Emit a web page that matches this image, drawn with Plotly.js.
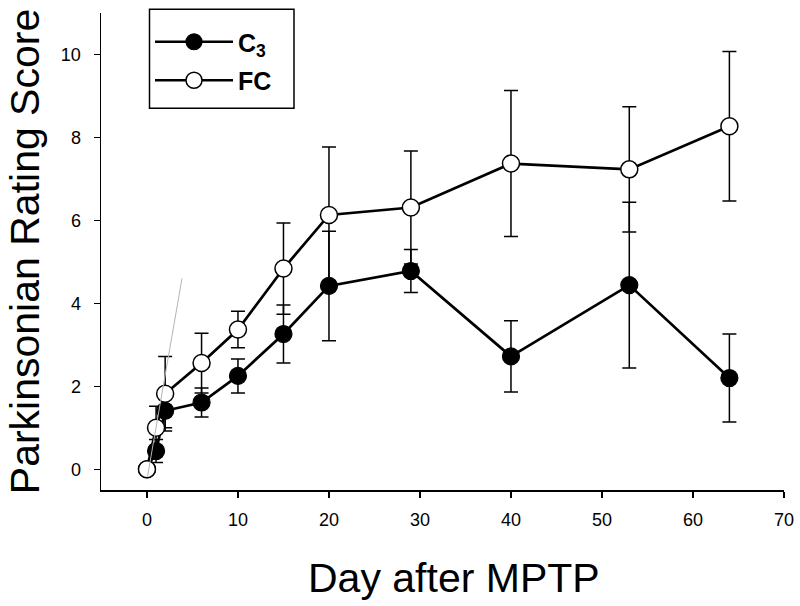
<!DOCTYPE html>
<html>
<head>
<meta charset="utf-8">
<script src="https://cdn.plot.ly/plotly-3.0.1.min.js"></script>
<style>html,body{margin:0;padding:0;background:#fff;}#chart{width:800px;height:606px;}</style>
</head>
<body>
<div id="chart"></div>
<script>
// Days after MPTP
const daysC3 = [0, 1, 2, 6, 10, 15, 20, 29, 40, 53, 64];
const scoreC3 = [0, 0.44, 1.41, 1.61, 2.25, 3.26, 4.42, 4.78, 2.72, 4.44, 2.20];
const errC3 = [0, 0.28, 0.41, 0.35, 0.41, 0.70, 1.32, 0.52, 0.86, 2.00, 1.06];

const daysFC = [0, 1, 2, 6, 10, 15, 20, 29, 40, 53, 64];
const scoreFC = [0, 1.00, 1.82, 2.56, 3.37, 4.84, 6.13, 6.31, 7.37, 7.23, 8.27];
const errFC = [0, 0.52, 0.90, 0.72, 0.44, 1.10, 1.64, 1.36, 1.76, 1.51, 1.80];

// stray thin grey line visible in the original figure
const strayX = [0.07, 3.85];
const strayY = [-0.16, 4.6];

const xTicks = [0, 10, 20, 30, 40, 50, 60, 70];
const yTicks = [0, 2, 4, 6, 8, 10];

const FONT = 'Liberation Sans, Arial, Helvetica, sans-serif';

const traces = [
  {
    x: daysC3, y: scoreC3, name: 'C<sub>3</sub>', type: 'scatter', mode: 'lines+markers',
    line: {color: '#000', width: 2.7},
    marker: {color: '#000', size: 17, line: {color: '#000', width: 1.2}},
    error_y: {type: 'data', array: errC3, visible: true, color: '#000', thickness: 1.5, width: 7},
    legendgroup: 'a'
  },
  {
    x: daysFC, y: scoreFC, name: 'FC', type: 'scatter', mode: 'lines+markers',
    line: {color: '#000', width: 2.7},
    marker: {color: '#fff', size: 17, line: {color: '#000', width: 1.5}},
    error_y: {type: 'data', array: errFC, visible: true, color: '#000', thickness: 1.5, width: 7},
    legendgroup: 'b'
  },
  {
    x: strayX, y: strayY, type: 'scatter', mode: 'lines', showlegend: false, hoverinfo: 'skip',
    line: {color: '#b4b4b4', width: 1}
  }
];

// plot area in px: left 101, right 784, top 13, bottom 490
const PL = 101, PW = 683, PB = 490, PH = 477;
const px = v => (v - PL) / PW;
const py = v => (PB - v) / PH;

const layout = {
  width: 800, height: 606,
  margin: {l: 101, r: 16, t: 13, b: 116, pad: 0},
  paper_bgcolor: '#fff', plot_bgcolor: '#fff',
  font: {family: FONT, color: '#000'},
  showlegend: true,
  legend: {
    x: px(150), y: py(19), xanchor: 'left', yanchor: 'top',
    bgcolor: 'rgba(0,0,0,0)', borderwidth: 0,
    font: {family: FONT, size: 25, weight: 'bold', color: '#000'},
    tracegroupgap: 3, itemwidth: 78
  },
  shapes: [
    {
      type: 'rect', xref: 'paper', yref: 'paper', layer: 'below',
      x0: px(149.5), x1: px(294), y0: py(108.3), y1: py(9.3),
      line: {color: '#000', width: 1.5}, fillcolor: '#fff'
    }
  ],
  xaxis: {
    range: [-5.05, 70], tickvals: xTicks, ticktext: xTicks.map(String),
    showgrid: false, zeroline: false, showline: true, linecolor: '#000', linewidth: 1.5,
    ticks: 'outside', ticklen: 6, tickwidth: 1.5, tickcolor: '#000', ticklabelstandoff: 7,
    tickfont: {family: FONT, size: 18, color: '#000'}
  },
  yaxis: {
    range: [-0.5, 11], tickvals: yTicks, ticktext: yTicks.map(String),
    showgrid: false, zeroline: false, showline: true, linecolor: '#000', linewidth: 1.5,
    ticks: 'outside', ticklen: 6, tickwidth: 1.5, tickcolor: '#000', ticklabelstandoff: 9,
    tickfont: {family: FONT, size: 18, color: '#000'},
    title: {text: 'Parkinsonian Rating Score', font: {family: FONT, size: 41, color: '#000'}, standoff: 8}
  },
  annotations: [
    {
      text: 'Day after MPTP', xref: 'paper', yref: 'paper', x: px(454), y: py(578),
      xanchor: 'center', yanchor: 'middle', showarrow: false,
      font: {family: FONT, size: 41, color: '#000'}
    }
  ]
};

Plotly.newPlot('chart', traces, layout, {displayModeBar: false, staticPlot: true});
</script>
</body>
</html>
